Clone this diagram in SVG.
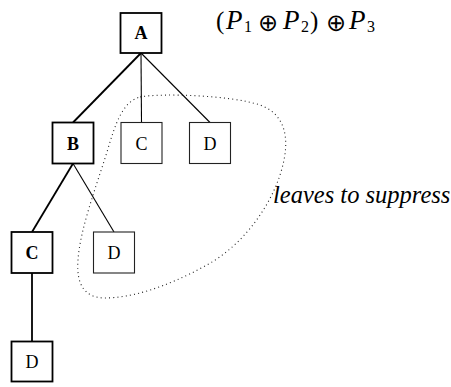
<svg xmlns="http://www.w3.org/2000/svg" width="451" height="387" viewBox="0 0 451 387">
  <style>
    .box { fill: #fff; stroke: #000; }
    .inner rect { stroke-width: 1.8; }
    .leaf rect { stroke-width: 1.1; stroke: #222; }
    .lbl { font-family: "Liberation Serif", "Times New Roman", serif; font-size: 18px; text-anchor: middle; fill: #000; }
    .inner .lbl { font-weight: bold; }
    .edge { stroke: #000; fill: none; }
    .edge.strong { stroke-width: 1.8; }
    .edge.thin { stroke-width: 1.1; }
    .math { font-family: "Liberation Serif", "Times New Roman", serif; font-size: 25px; fill: #000; }
    .var { font-style: italic; font-size: 27px; }
    .sub { font-size: 16px; }
    .op { font-family: "DejaVu Sans", "DejaVu Serif", sans-serif; font-size: 24px; fill: #000; }
    .note { font-family: "Liberation Serif", "Times New Roman", serif; font-style: italic; font-size: 24.5px; fill: #000; }
  </style>

  <!-- connectors -->
  <g id="connectors">
    <line class="edge strong" x1="141" y1="53" x2="73" y2="122.5"/>
    <line class="edge thin" x1="141" y1="53" x2="141.5" y2="122.5"/>
    <line class="edge thin" x1="141" y1="53" x2="210" y2="122.5"/>
    <line class="edge strong" x1="73" y1="163.5" x2="32" y2="232"/>
    <line class="edge thin" x1="73" y1="163.5" x2="114" y2="232"/>
    <line class="edge strong" x1="32" y1="273" x2="32" y2="341.5"/>
  </g>

  <!-- nodes -->
  <g id="nA" class="inner">
    <rect class="box" x="120.5" y="13" width="41" height="40"/>
    <text class="lbl" x="141" y="39">A</text>
  </g>
  <g id="nB" class="inner">
    <rect class="box" x="52.5" y="122.5" width="41" height="41"/>
    <text class="lbl" x="73" y="149.5">B</text>
  </g>
  <g id="nC1" class="leaf">
    <rect class="box" x="121" y="122.5" width="41" height="41"/>
    <text class="lbl" x="141.5" y="149.5">C</text>
  </g>
  <g id="nD1" class="leaf">
    <rect class="box" x="189.5" y="122.5" width="41" height="41"/>
    <text class="lbl" x="210" y="149.5">D</text>
  </g>
  <g id="nC2" class="inner">
    <rect class="box" x="11.5" y="232" width="41" height="41"/>
    <text class="lbl" x="32" y="259">C</text>
  </g>
  <g id="nD2" class="leaf">
    <rect class="box" x="93.5" y="232" width="41" height="41"/>
    <text class="lbl" x="114" y="259">D</text>
  </g>
  <g id="nD3" class="inner">
    <rect class="box" x="11.5" y="341.5" width="41" height="40"/>
    <text class="lbl" x="32" y="368" style="font-weight:normal">D</text>
  </g>

  <!-- dotted outline around the leaves -->
  <path d="M140,97 C160,93 230,95 260,105 C280,112 290,130 284,160 C276,200 245,245 205,266 C165,288 130,298 105,298 C85,298 76,285 78,260 C80,230 95,190 107,152 C115,125 122,102 140,97 Z" fill="none" stroke="#222" stroke-width="1.1" stroke-dasharray="1 3.2"/>

  <!-- expression -->
  <g id="expr">
    <text class="math" x="216" y="29">(</text>
    <text class="math var" x="226" y="29">P</text>
    <text class="math sub" x="244" y="32">1</text>
    <text class="op" x="258" y="30.5">⊕</text>
    <text class="math var" x="283" y="29">P</text>
    <text class="math sub" x="301" y="32">2</text>
    <text class="math" x="310" y="29">)</text>
    <text class="op" x="326" y="30.5">⊕</text>
    <text class="math var" x="349" y="29">P</text>
    <text class="math sub" x="367" y="32">3</text>
  </g>

  <text class="note" x="273" y="203">leaves to suppress</text>
</svg>
